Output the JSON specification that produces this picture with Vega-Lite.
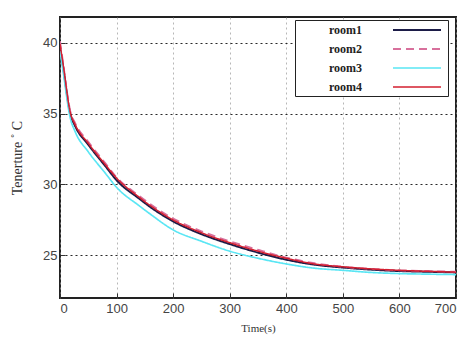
{
  "$schema": "https://vega.github.io/schema/vega-lite/v6.json",
  "autosize": {"type": "none"},
  "padding": {"left": 60, "top": 17, "right": 13, "bottom": 40},
  "width": 396,
  "height": 281,
  "background": "white",
  "config": {
    "view": {"stroke": "#222", "strokeWidth": 2},
    "axis": {"labelFont": "Liberation Sans", "titleFont": "Liberation Serif", "titleFontWeight": "normal", "labelColor": "#444", "titleColor": "#333", "domain": false, "tickColor": "#333", "tickSize": -5, "gridDash": [2, 3]}
  },
  "data": {"values": [
    {"t":0,"room":"room1","T":39.6},{"t":5,"room":"room1","T":38.4},{"t":18,"room":"room1","T":35.0},{"t":27,"room":"room1","T":34.1},{"t":50,"room":"room1","T":32.8},{"t":80,"room":"room1","T":31.3},{"t":100,"room":"room1","T":30.3},{"t":140,"room":"room1","T":29.0},{"t":160,"room":"room1","T":28.4},{"t":200,"room":"room1","T":27.4},{"t":250,"room":"room1","T":26.5},{"t":300,"room":"room1","T":25.8},{"t":350,"room":"room1","T":25.2},{"t":400,"room":"room1","T":24.7},{"t":450,"room":"room1","T":24.35},{"t":500,"room":"room1","T":24.15},{"t":550,"room":"room1","T":24.0},{"t":600,"room":"room1","T":23.9},{"t":650,"room":"room1","T":23.85},{"t":700,"room":"room1","T":23.8},
    {"t":0,"room":"room2","T":40.1},{"t":5,"room":"room2","T":38.7},{"t":18,"room":"room2","T":35.2},{"t":27,"room":"room2","T":34.3},{"t":50,"room":"room2","T":33.0},{"t":80,"room":"room2","T":31.5},{"t":100,"room":"room2","T":30.5},{"t":140,"room":"room2","T":29.2},{"t":160,"room":"room2","T":28.6},{"t":200,"room":"room2","T":27.6},{"t":250,"room":"room2","T":26.7},{"t":300,"room":"room2","T":26.0},{"t":350,"room":"room2","T":25.4},{"t":400,"room":"room2","T":24.85},{"t":450,"room":"room2","T":24.45},{"t":500,"room":"room2","T":24.2},{"t":550,"room":"room2","T":24.05},{"t":600,"room":"room2","T":23.95},{"t":650,"room":"room2","T":23.9},{"t":700,"room":"room2","T":23.85},
    {"t":0,"room":"room3","T":39.4},{"t":5,"room":"room3","T":38.1},{"t":18,"room":"room3","T":34.7},{"t":27,"room":"room3","T":33.7},{"t":50,"room":"room3","T":32.3},{"t":80,"room":"room3","T":30.8},{"t":100,"room":"room3","T":29.8},{"t":140,"room":"room3","T":28.5},{"t":160,"room":"room3","T":27.9},{"t":200,"room":"room3","T":26.8},{"t":250,"room":"room3","T":26.0},{"t":300,"room":"room3","T":25.3},{"t":350,"room":"room3","T":24.8},{"t":400,"room":"room3","T":24.4},{"t":450,"room":"room3","T":24.1},{"t":500,"room":"room3","T":23.95},{"t":550,"room":"room3","T":23.8},{"t":600,"room":"room3","T":23.72},{"t":650,"room":"room3","T":23.68},{"t":700,"room":"room3","T":23.65},
    {"t":0,"room":"room4","T":39.9},{"t":5,"room":"room4","T":38.6},{"t":18,"room":"room4","T":35.1},{"t":27,"room":"room4","T":34.2},{"t":50,"room":"room4","T":32.9},{"t":80,"room":"room4","T":31.4},{"t":100,"room":"room4","T":30.45},{"t":140,"room":"room4","T":29.1},{"t":160,"room":"room4","T":28.5},{"t":200,"room":"room4","T":27.5},{"t":250,"room":"room4","T":26.6},{"t":300,"room":"room4","T":25.9},{"t":350,"room":"room4","T":25.3},{"t":400,"room":"room4","T":24.8},{"t":450,"room":"room4","T":24.4},{"t":500,"room":"room4","T":24.2},{"t":550,"room":"room4","T":24.05},{"t":600,"room":"room4","T":23.95},{"t":650,"room":"room4","T":23.88},{"t":700,"room":"room4","T":23.82}
  ]},
  "mark": {"type": "line", "interpolate": "monotone", "clip": true},
  "encoding": {
    "x": {"field": "t", "type": "quantitative", "scale": {"domain": [0, 700], "nice": false},
      "axis": {"values": [0,100,200,300,400,500,600,700], "title": "Time(s)", "titleFontSize": 11, "labelFontSize": 13, "labelPadding": 9, "titlePadding": 7, "gridColor": "#999", "gridOpacity": 0.7}},
    "y": {"field": "T", "type": "quantitative", "scale": {"domain": [22, 41.8], "nice": false, "zero": false},
      "axis": {"values": [25, 30, 35, 40], "title": "Tenerture ˚ C", "titleFontSize": 14, "labelFontSize": 13, "labelPadding": 8, "titlePadding": 18, "gridColor": "#111", "gridOpacity": 0.9}},
    "color": {"field": "room", "type": "nominal",
      "scale": {"domain": ["room1","room2","room3","room4"], "range": ["#1c1c48","#d8709c","#5ae6f4","#d42030"]},
      "legend": {"orient": "none", "legendX": 235, "legendY": 3, "title": " ", "titleOrient": "left", "titleFontSize": 1, "titlePadding": 112, "symbolType": "M-4,0H4", "symbolSize": 144, "symbolStrokeWidth": 2.5, "labelFont": "Liberation Serif", "labelFontSize": 12, "labelFontWeight": "bold", "labelColor": "#222", "labelAlign": "right", "labelOffset": -62, "rowPadding": 6, "strokeColor": "#222", "fillColor": "white", "padding": 3}},
    "strokeDash": {"field": "room", "type": "nominal", "scale": {"domain": ["room1","room2","room3","room4"], "range": [[1,0],[8,5],[1,0],[1,0]]}, "legend": null},
    "strokeWidth": {"field": "room", "type": "nominal", "scale": {"domain": ["room1","room2","room3","room4"], "range": [2,1.5,3,2]}, "legend": null}
  }
}
